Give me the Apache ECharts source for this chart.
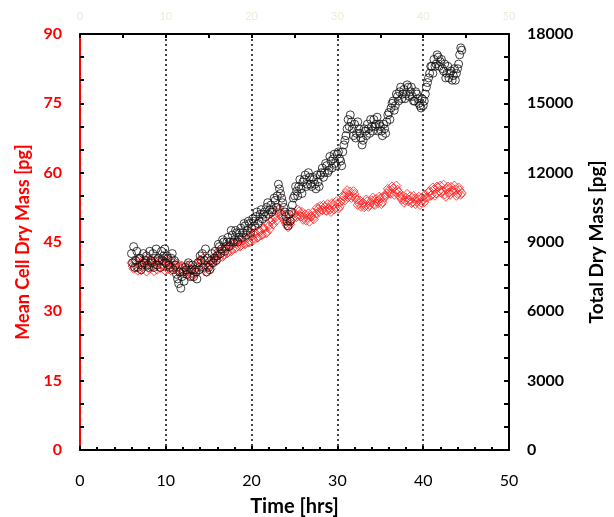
<!DOCTYPE html>
<html>
<head>
<meta charset="utf-8">
<script src="https://cdn.jsdelivr.net/npm/echarts@6/dist/echarts.min.js"></script>
<style>html,body{margin:0;padding:0;background:#fff}#c{width:614px;height:517px}</style>
</head>
<body>
<div id="c"></div>
<script>
// Sample set A (on the quarter hour)
var timeHrs = [6.00,6.25,6.50,6.75,7.00,7.25,7.50,7.75,8.00,8.25,8.50,8.75,9.00,9.25,9.50,9.75,
10.00,10.25,10.50,10.75,11.00,11.25,11.50,11.75,12.00,12.25,12.50,12.75,13.00,13.25,13.50,13.75,
14.00,14.25,14.50,14.75,15.00,15.25,15.50,15.75,16.00,16.25,16.50,16.75,17.00,17.25,17.50,17.75,
18.00,18.25,18.50,18.75,19.00,19.25,19.50,19.75,20.00,20.25,20.50,20.75,21.00,21.25,21.50,21.75,
22.00,22.25,22.50,22.75,23.00,23.25,23.50,23.75,24.00,24.25,24.50,24.75,25.00,25.25,25.50,25.75,
26.00,26.25,26.50,26.75,27.00,27.25,27.50,27.75,28.00,28.25,28.50,28.75,29.00,29.25,29.50,29.75,
30.00,30.25,30.50,30.75,31.00,31.25,31.50,31.75,32.00,32.25,32.50,32.75,33.00,33.25,33.50,33.75,
34.00,34.25,34.50,34.75,35.00,35.25,35.50,35.75,36.00,36.25,36.50,36.75,37.00,37.25,37.50,37.75,
38.00,38.25,38.50,38.75,39.00,39.25,39.50,39.75,40.00,40.25,40.50,40.75,41.00,41.25,41.50,41.75,
42.00,42.25,42.50,42.75,43.00,43.25,43.50,43.75,44.00,44.25,44.50];

var meanCellDryMass = [40.5,39.2,41.0,38.8,40.2,39.5,41.3,38.6,40.0,41.2,39.6,40.8,39.0,40.6,41.4,39.8,
40.3,39.1,40.9,39.5,40.7,38.9,39.8,38.4,39.6,38.2,39.4,37.8,38.9,38.0,39.5,40.4,
41.2,40.1,39.3,38.5,40.0,39.2,40.8,41.8,42.3,41.5,43.0,42.2,43.6,42.8,44.2,43.5,
44.8,43.9,45.0,44.2,45.3,44.5,45.8,44.9,46.2,45.4,46.8,46.0,47.3,46.6,47.9,47.0,
48.4,49.5,48.8,50.2,51.4,52.3,51.0,50.0,49.0,48.2,48.8,50.0,51.2,50.4,51.6,50.5,
49.8,51.0,50.2,49.4,50.6,49.9,51.2,52.1,52.8,51.9,52.6,51.7,52.4,51.5,53.0,52.3,
53.3,52.6,54.0,54.8,55.6,54.7,55.9,54.9,55.4,54.2,53.4,52.6,53.5,52.8,53.8,53.0,
54.0,53.2,54.3,53.4,54.4,53.6,54.6,55.5,56.2,55.4,56.6,55.8,56.3,55.0,54.2,53.5,
54.6,53.8,54.9,53.6,54.4,53.7,54.8,53.5,54.2,55.3,54.6,56.0,55.2,56.4,55.5,56.8,
57.2,56.1,55.3,56.5,55.7,56.9,55.8,56.4,55.4,56.2,55.6];

var totalDryMass = [8500,8800,8200,7900,8300,8000,8100,8400,7900,8200,8500,8300,8000,8200,8600,8400,
8100,8300,7900,8500,8200,7600,7200,7000,7700,7900,7600,8000,7800,7500,7700,8100,
8400,8500,8200,7700,7900,8200,8100,8600,8400,8800,8700,9000,8800,9200,9000,9300,
9100,9400,9200,9600,9400,9700,9500,9800,9600,9900,10100,9800,10200,10000,10300,10500,
10200,10600,10400,10800,11000,11300,10900,10500,10100,9700,9900,10600,11000,11200,11400,11300,
11600,11900,11500,11800,11400,11700,11300,11600,11900,12200,12000,12300,12100,12500,12600,12400,
12800,12600,12300,13200,13600,14300,14500,13900,14100,13700,13900,13500,13400,13800,14100,13700,
14000,14300,14100,13800,14000,13600,13900,14200,14600,14800,15100,14900,15300,15500,15200,15600,
15400,15700,15500,15300,15100,15400,15000,14800,14900,15400,15900,16300,16600,16900,16700,17000,
16800,16500,16700,16300,16100,16400,16200,16000,16500,17100,17300];

// Sample set B (between the quarter hours)
var timeHrsB = [6.125,6.375,6.625,6.875,7.125,7.375,7.625,7.875,
8.125,8.375,8.625,8.875,9.125,9.375,9.625,9.875,
10.125,10.375,10.625,10.875,11.125,11.375,11.625,11.875,
12.125,12.375,12.625,12.875,13.125,13.375,13.625,13.875,
14.125,14.375,14.625,14.875,15.125,15.375,15.625,15.875,
16.125,16.375,16.625,16.875,17.125,17.375,17.625,17.875,
18.125,18.375,18.625,18.875,19.125,19.375,19.625,19.875,
20.125,20.375,20.625,20.875,21.125,21.375,21.625,21.875,
22.125,22.375,22.625,22.875,23.125,23.375,23.625,23.875,
24.125,24.375,24.625,24.875,25.125,25.375,25.625,25.875,
26.125,26.375,26.625,26.875,27.125,27.375,27.625,27.875,
28.125,28.375,28.625,28.875,29.125,29.375,29.625,29.875,
30.125,30.375,30.625,30.875,31.125,31.375,31.625,31.875,
32.125,32.375,32.625,32.875,33.125,33.375,33.625,33.875,
34.125,34.375,34.625,34.875,35.125,35.375,35.625,35.875,
36.125,36.375,36.625,36.875,37.125,37.375,37.625,37.875,
38.125,38.375,38.625,38.875,39.125,39.375,39.625,39.875,
40.125,40.375,40.625,40.875,41.125,41.375,41.625,41.875,
42.125,42.375,42.625,42.875,43.125,43.375,43.625,43.875,
44.125,44.375];

var meanCellDryMassB = [39.8,40.8,39.5,41.2,38.9,40.4,39.8,41.0,
39.2,40.5,38.7,40.1,41.6,39.4,40.2,38.9,
41.0,40.2,38.8,40.4,39.6,40.4,38.7,39.9,
38.8,40.0,38.5,39.2,37.6,39.0,38.4,39.6,
40.6,41.5,40.0,39.6,41.0,40.3,41.3,40.9,
43.0,42.4,41.8,43.5,42.5,44.0,43.0,44.6,
43.6,45.2,44.0,45.6,44.6,46.0,45.0,46.5,
45.6,47.0,45.9,47.5,46.4,48.0,46.8,48.8,
47.8,49.8,50.6,49.6,52.0,51.6,50.5,49.5,
48.6,49.4,49.6,51.4,50.6,52.0,50.8,51.5,
50.4,49.6,51.2,50.5,51.4,50.6,52.4,51.5,
52.0,53.0,51.8,53.2,52.0,53.4,52.0,53.8,
52.2,53.6,55.0,54.0,56.2,55.2,54.5,56.0,
54.6,53.0,54.0,53.2,52.5,54.2,52.6,53.6,
54.6,53.0,53.8,54.8,53.2,54.9,55.0,56.5,
55.6,57.0,55.2,57.2,55.8,54.6,55.0,54.0,
55.4,54.2,53.4,55.0,53.2,54.3,53.0,54.6,
53.6,54.6,55.8,55.0,56.8,55.0,57.0,56.0,
55.6,57.4,54.8,57.0,55.2,56.2,57.2,55.0,
56.8,55.2];

var totalDryMassB = [8100,7900,8600,8300,7800,8500,8200,8000,
8600,8100,7900,8700,8300,7900,8200,8700,
8400,8000,8300,7800,8000,7400,7700,7500,
7300,7800,8100,7500,8000,7800,7400,7800,
8200,7900,8700,8300,7800,8500,8300,8200,
8900,8500,9100,8600,9000,8800,9500,9000,
9500,9000,9400,9200,9800,9300,9900,9400,
10000,9700,10300,9900,10400,10200,10100,10700,
10400,10300,10900,10500,11500,11100,10700,10300,
9900,10200,10300,10900,11400,11000,11700,11100,
11700,11400,12000,11500,11800,11500,11900,11400,
12000,11800,12400,12000,12700,12200,12800,12300,
12900,12500,12900,13400,13900,14000,14200,13600,
13500,14200,13700,13200,13900,13600,13900,14300,
13800,14000,14400,14100,13800,14100,13700,14500,
14300,15000,14700,15400,15100,15700,15400,15200,
15800,15300,15700,15100,15500,15200,14900,15200,
15100,15700,16100,16600,16300,16600,17100,16600,
16900,16400,16100,16600,16300,16000,16500,16300,
16700,17400];

var xTicks = [0,10,20,30,40,50];
var leftTicks = [0,15,30,45,60,75,90];
var rightTicks = [0,3000,6000,9000,12000,15000,18000];

function pairs(ts, vs){ return ts.map(function(t,i){return [t, vs[i]];}); }
var redData = pairs(timeHrs, meanCellDryMass).concat(pairs(timeHrsB, meanCellDryMassB));
var blackData = pairs(timeHrs, totalDryMass).concat(pairs(timeHrsB, totalDryMassB));

var FONT = 'Lato, "Open Sans", sans-serif';
var chart = echarts.init(document.getElementById('c'));
chart.setOption({
  animation:false,
  backgroundColor:'#fff',
  grid:{left:80, right:105, top:34, bottom:67, containLabel:false, outerBoundsMode:'none'},
  xAxis:[{
    type:'value', position:'bottom', min:xTicks[0], max:xTicks[xTicks.length-1], interval:10,
    axisLine:{show:true, onZero:false, lineStyle:{color:'#000', width:2}},
    axisTick:{show:true, inside:true, length:4, lineStyle:{color:'#000', width:2}},
    minorTick:{show:true, splitNumber:5, length:3, lineStyle:{color:'#000', width:2}},
    axisLabel:{color:'#000', fontSize:16, fontFamily:FONT, margin:23},
    splitLine:{show:true, lineStyle:{color:'#444', type:[2,3], width:2}},
    name:'Time [hrs]', nameLocation:'middle', nameGap:47,
    nameTextStyle:{color:'#000', fontSize:20, fontWeight:'bold', fontFamily:FONT}
  },{
    type:'value', position:'top', min:xTicks[0], max:xTicks[xTicks.length-1], interval:10,
    axisLine:{show:true, onZero:false, lineStyle:{color:'#000', width:2}},
    axisTick:{show:true, inside:true, length:4, lineStyle:{color:'#000', width:2}},
    minorTick:{show:true, splitNumber:2, length:4, lineStyle:{color:'#000', width:2}},
    axisLabel:{color:'#f1ead8', fontSize:11, fontFamily:FONT, margin:12},
    splitLine:{show:false}
  }],
  yAxis:[{
    type:'value', position:'left', min:leftTicks[0], max:leftTicks[leftTicks.length-1], interval:15,
    axisLine:{show:true, onZero:false, lineStyle:{color:'#ff0000', width:2}},
    axisTick:{show:true, inside:true, length:4, lineStyle:{color:'#000', width:2}},
    minorTick:{show:true, splitNumber:3, length:4, lineStyle:{color:'#000', width:2}},
    axisLabel:{color:'#ff0000', fontSize:16, fontWeight:'bold', fontFamily:FONT, margin:18},
    splitLine:{show:false},
    name:'Mean Cell Dry Mass [pg]', nameLocation:'middle', nameGap:48, nameRotate:90,
    nameTextStyle:{color:'#ff0000', fontSize:18, fontWeight:'bold', fontFamily:FONT}
  },{
    type:'value', position:'right', min:rightTicks[0], max:rightTicks[rightTicks.length-1], interval:3000,
    axisLine:{show:true, onZero:false, lineStyle:{color:'#000', width:2}},
    axisTick:{show:true, inside:true, length:5, lineStyle:{color:'#000', width:2}},
    minorTick:{show:true, splitNumber:3, length:5, lineStyle:{color:'#000', width:2}},
    axisLabel:{color:'#000', fontSize:16, fontWeight:'bold', fontFamily:FONT, margin:18,
      formatter:function(v){return String(v);}},
    splitLine:{show:false},
    name:'Total Dry Mass [pg]', nameLocation:'middle', nameGap:78, nameRotate:90,
    nameTextStyle:{color:'#000', fontSize:19, fontWeight:'bold', fontFamily:FONT}
  }],
  series:[{
    type:'scatter', xAxisIndex:0, yAxisIndex:0, data:redData,
    symbol:'diamond', symbolSize:9,
    itemStyle:{color:'rgba(0,0,0,0)', borderColor:'#ff2020', borderWidth:1}
  },{
    type:'scatter', xAxisIndex:0, yAxisIndex:1, data:blackData,
    symbol:'circle', symbolSize:8,
    itemStyle:{color:'rgba(0,0,0,0)', borderColor:'#111', borderWidth:1}
  }]
});
</script>
</body>
</html>
